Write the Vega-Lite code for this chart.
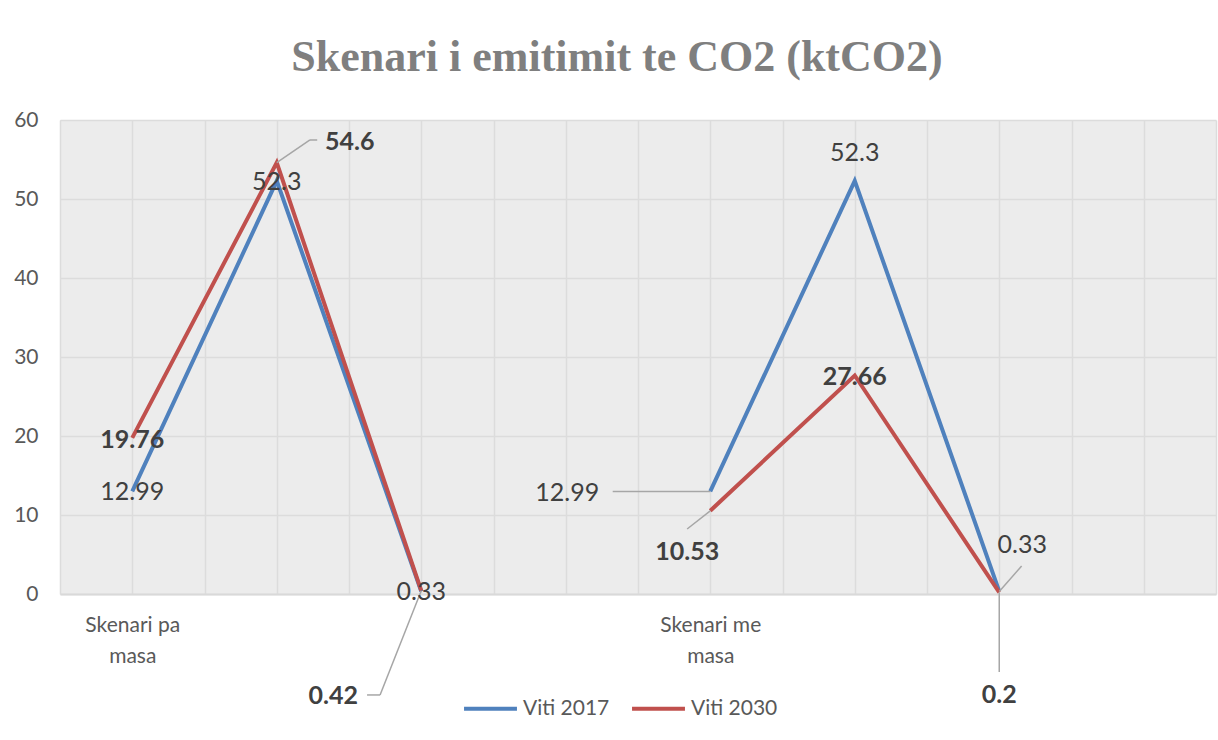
{
  "$schema": "https://vega.github.io/schema/vega-lite/v6.json",
  "autosize": {"type": "none"},
  "width": 1156,
  "height": 474,
  "padding": {"left": 60, "top": 120, "right": 2, "bottom": 146},
  "background": "white",
  "title": {
    "text": "Skenari i emitimit te CO2 (ktCO2)",
    "font": "Liberation Serif",
    "fontSize": 44,
    "fontWeight": "bold",
    "color": "#7f7f7f",
    "anchor": "middle",
    "dx": -21,
    "offset": 29
  },
  "config": {
    "view": {"stroke": null, "fill": "#ececec"},
    "font": "Lato"
  },
  "data": {
    "values": [
      {"scenario": "Skenari pa masa", "x": 1, "year": "Viti 2017", "value": 12.99},
      {"scenario": "Skenari pa masa", "x": 3, "year": "Viti 2017", "value": 52.3},
      {"scenario": "Skenari pa masa", "x": 5, "year": "Viti 2017", "value": 0.33},
      {"scenario": "Skenari me masa", "x": 9, "year": "Viti 2017", "value": 12.99},
      {"scenario": "Skenari me masa", "x": 11, "year": "Viti 2017", "value": 52.3},
      {"scenario": "Skenari me masa", "x": 13, "year": "Viti 2017", "value": 0.33},
      {"scenario": "Skenari pa masa", "x": 1, "year": "Viti 2030", "value": 19.76},
      {"scenario": "Skenari pa masa", "x": 3, "year": "Viti 2030", "value": 54.6},
      {"scenario": "Skenari pa masa", "x": 5, "year": "Viti 2030", "value": 0.42},
      {"scenario": "Skenari me masa", "x": 9, "year": "Viti 2030", "value": 10.53},
      {"scenario": "Skenari me masa", "x": 11, "year": "Viti 2030", "value": 27.66},
      {"scenario": "Skenari me masa", "x": 13, "year": "Viti 2030", "value": 0.2}
    ]
  },
  "encoding": {
    "x": {
      "field": "x", "type": "quantitative",
      "scale": {"domain": [0, 16], "nice": false, "zero": false},
      "axis": {
        "title": null,
        "values": [0,1,2,3,4,5,6,7,8,9,10,11,12,13,14,15,16],
        "labelExpr": "datum.value == 1 ? ['Skenari pa', 'masa'] : datum.value == 9 ? ['Skenari me', 'masa'] : ''",
        "labelFont": "Lato",
        "labelFontSize": 21,
        "labelColor": "#595959",
        "labelPadding": 20,
        "labelLineHeight": 31,
        "labelBaseline": "top",
        "labelOverlap": false,
        "labelFlush": false,
        "ticks": false,
        "domain": true,
        "domainColor": "#d9d9d9",
        "domainWidth": 2,
        "grid": true,
        "gridColor": "#dcdcdc",
        "gridWidth": 1.5
      }
    },
    "y": {
      "field": "value", "type": "quantitative",
      "scale": {"domain": [0, 60], "nice": false},
      "axis": {
        "title": null,
        "values": [0, 10, 20, 30, 40, 50, 60],
        "labelFont": "Lato",
        "labelFontSize": 21,
        "labelColor": "#595959",
        "labelPadding": 22,
        "ticks": false,
        "domain": false,
        "grid": true,
        "gridColor": "#dcdcdc",
        "gridWidth": 1.5
      }
    }
  },
  "layer": [
    {
      "mark": {"type": "line", "strokeWidth": 4, "strokeJoin": "miter"},
      "encoding": {
        "color": {
          "field": "year", "type": "nominal",
          "scale": {"domain": ["Viti 2017", "Viti 2030"], "range": ["#4F81BD", "#C0504D"]},
          "legend": {
            "title": null,
            "orient": "none",
            "legendX": 402,
            "legendY": 560,
            "direction": "horizontal",
            "symbolType": "stroke",
            "symbolStrokeWidth": 4,
            "symbolSize": 2800,
            "labelFont": "Lato",
            "labelFontSize": 21,
            "labelColor": "#595959",
            "labelOffset": 4,
            "columnPadding": 14
          }
        },
        "detail": {"field": "scenario"}
      }
    },
    {
      "transform": [{"filter": "datum.year == 'Viti 2017' && datum.x == 9"}],
      "mark": {"type": "rule", "color": "#a6a6a6", "strokeWidth": 1.5},
      "encoding": {"x2": {"datum": 7.65}, "y2": {"datum": 12.99}}
    },
    {
      "transform": [{"filter": "datum.year == 'Viti 2017' && datum.x == 13"}],
      "mark": {"type": "rule", "color": "#a6a6a6", "strokeWidth": 1.5},
      "encoding": {"x2": {"datum": 13.31}, "y2": {"datum": 3.54}}
    },
    {
      "transform": [{"filter": "datum.year == 'Viti 2030' && datum.x == 3"}],
      "mark": {"type": "rule", "color": "#a6a6a6", "strokeWidth": 1.5},
      "encoding": {"x2": {"datum": 3.46}, "y2": {"datum": 57.47}}
    },
    {
      "transform": [{"filter": "datum.year == 'Viti 2030' && datum.x == 3"}],
      "mark": {"type": "rule", "color": "#a6a6a6", "strokeWidth": 1.5},
      "encoding": {"x": {"datum": 3.46}, "x2": {"datum": 3.56}, "y": {"datum": 57.47}}
    },
    {
      "transform": [{"filter": "datum.year == 'Viti 2030' && datum.x == 5"}],
      "mark": {"type": "rule", "color": "#a6a6a6", "strokeWidth": 1.5},
      "encoding": {"x2": {"datum": 4.43}, "y2": {"datum": -12.78}}
    },
    {
      "transform": [{"filter": "datum.year == 'Viti 2030' && datum.x == 5"}],
      "mark": {"type": "rule", "color": "#a6a6a6", "strokeWidth": 1.5},
      "encoding": {"x": {"datum": 4.43}, "x2": {"datum": 4.25}, "y": {"datum": -12.78}}
    },
    {
      "transform": [{"filter": "datum.year == 'Viti 2030' && datum.x == 9"}],
      "mark": {"type": "rule", "color": "#a6a6a6", "strokeWidth": 1.5},
      "encoding": {"x2": {"datum": 8.68}, "y2": {"datum": 8.23}}
    },
    {
      "transform": [{"filter": "datum.year == 'Viti 2030' && datum.x == 13"}],
      "mark": {"type": "rule", "color": "#a6a6a6", "strokeWidth": 1.5},
      "encoding": {"x2": {"datum": 13.0}, "y2": {"datum": -9.87}}
    },
    {
      "transform": [{"filter": "datum.year == 'Viti 2017' && datum.x <= 5"}],
      "mark": {"type": "text", "fontSize": 25, "color": "#404040", "align": "center", "baseline": "middle", "dy": 1},
      "encoding": {"text": {"field": "value", "type": "nominal"}}
    },
    {
      "transform": [{"filter": "datum.year == 'Viti 2017' && datum.x == 9"}],
      "mark": {"type": "text", "fontSize": 25, "color": "#404040", "align": "center", "baseline": "middle", "dx": -143, "dy": 2},
      "encoding": {"text": {"field": "value", "type": "nominal"}}
    },
    {
      "transform": [{"filter": "datum.year == 'Viti 2017' && datum.x == 11"}],
      "mark": {"type": "text", "fontSize": 25, "color": "#404040", "align": "center", "baseline": "middle", "dy": -28},
      "encoding": {"text": {"field": "value", "type": "nominal"}}
    },
    {
      "transform": [{"filter": "datum.year == 'Viti 2017' && datum.x == 13"}],
      "mark": {"type": "text", "fontSize": 25, "color": "#404040", "align": "center", "baseline": "middle", "dx": 23, "dy": -46},
      "encoding": {"text": {"field": "value", "type": "nominal"}}
    },
    {
      "transform": [{"filter": "datum.year == 'Viti 2030' && (datum.x == 1 || datum.x == 11)"}],
      "mark": {"type": "text", "fontSize": 25, "fontWeight": "bold", "color": "#404040", "align": "center", "baseline": "middle", "dy": 2},
      "encoding": {"text": {"field": "value", "type": "nominal"}}
    },
    {
      "transform": [{"filter": "datum.year == 'Viti 2030' && datum.x == 3"}],
      "mark": {"type": "text", "fontSize": 25, "fontWeight": "bold", "color": "#404040", "align": "center", "baseline": "middle", "dx": 73, "dy": -21},
      "encoding": {"text": {"field": "value", "type": "nominal"}}
    },
    {
      "transform": [{"filter": "datum.year == 'Viti 2030' && datum.x == 5"}],
      "mark": {"type": "text", "fontSize": 25, "fontWeight": "bold", "color": "#404040", "align": "center", "baseline": "middle", "dx": -88, "dy": 105},
      "encoding": {"text": {"field": "value", "type": "nominal"}}
    },
    {
      "transform": [{"filter": "datum.year == 'Viti 2030' && datum.x == 9"}],
      "mark": {"type": "text", "fontSize": 25, "fontWeight": "bold", "color": "#404040", "align": "center", "baseline": "middle", "dx": -23, "dy": 41},
      "encoding": {"text": {"field": "value", "type": "nominal"}}
    },
    {
      "transform": [{"filter": "datum.year == 'Viti 2030' && datum.x == 13"}],
      "mark": {"type": "text", "fontSize": 25, "fontWeight": "bold", "color": "#404040", "align": "center", "baseline": "middle", "dy": 103},
      "encoding": {"text": {"field": "value", "type": "nominal"}}
    }
  ]
}
